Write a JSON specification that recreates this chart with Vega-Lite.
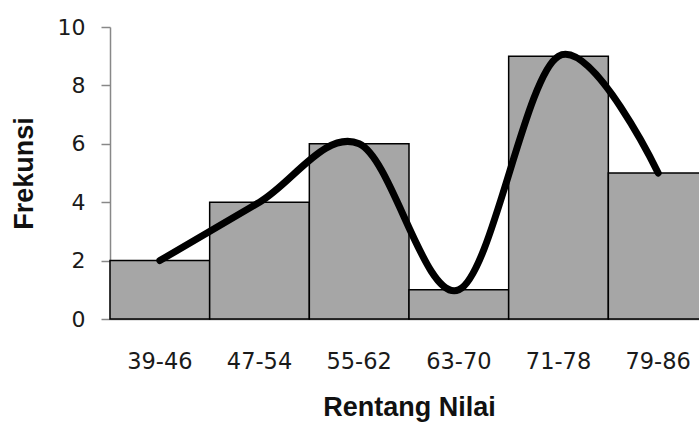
{
  "$schema": "https://vega.github.io/schema/vega-lite/v6.json",
  "autosize": {"type": "none"},
  "width": 589,
  "height": 292,
  "padding": {"left": 110, "top": 27, "right": 0, "bottom": 105},
  "background": "white",
  "data": {
    "values": [
      {"rentang": "39-46", "frekuensi": 2},
      {"rentang": "47-54", "frekuensi": 4},
      {"rentang": "55-62", "frekuensi": 6},
      {"rentang": "63-70", "frekuensi": 1},
      {"rentang": "71-78", "frekuensi": 9},
      {"rentang": "79-86", "frekuensi": 5}
    ]
  },
  "config": {"view": {"stroke": null}},
  "encoding": {
    "x": {
      "field": "rentang",
      "type": "ordinal",
      "sort": null,
      "scale": {"paddingInner": 0, "paddingOuter": 0, "range": [0, 598]},
      "axis": {
        "title": "Rentang Nilai",
        "labelAngle": 0,
        "ticks": false,
        "domainColor": "#888888",
        "domainWidth": 1.5,
        "labelFont": "DejaVu Sans",
        "labelFontSize": 22.5,
        "labelColor": "#1a1a1a",
        "labelBaseline": "alphabetic",
        "labelPadding": 49,
        "titleFont": "Liberation Sans",
        "titleFontSize": 27,
        "titleFontWeight": "bold",
        "titleColor": "#111111",
        "titleBaseline": "alphabetic",
        "titleY": 96,
        "titleX": 299
      }
    },
    "y": {
      "field": "frekuensi",
      "type": "quantitative",
      "scale": {"domain": [0, 10]},
      "axis": {
        "title": "Frekunsi",
        "values": [0, 2, 4, 6, 8, 10],
        "grid": false,
        "domainColor": "#888888",
        "domainWidth": 1.5,
        "tickColor": "#888888",
        "tickWidth": 1.5,
        "tickSize": 9,
        "labelPadding": 16,
        "labelFont": "DejaVu Sans",
        "labelFontSize": 22,
        "labelColor": "#1a1a1a",
        "titleFont": "Liberation Sans",
        "titleFontSize": 27,
        "titleFontWeight": "bold",
        "titleColor": "#111111",
        "titleAngle": 270,
        "titleBaseline": "alphabetic",
        "titleAlign": "center",
        "titleX": -78,
        "titleY": 146
      }
    }
  },
  "layer": [
    {
      "mark": {"type": "bar", "color": "#a6a6a6", "stroke": "#000000", "strokeWidth": 1.5},
      "encoding": {}
    },
    {
      "mark": {"type": "line", "color": "#000000", "strokeWidth": 7, "interpolate": "cardinal", "strokeCap": "round", "strokeJoin": "round"},
      "encoding": {}
    }
  ]
}
